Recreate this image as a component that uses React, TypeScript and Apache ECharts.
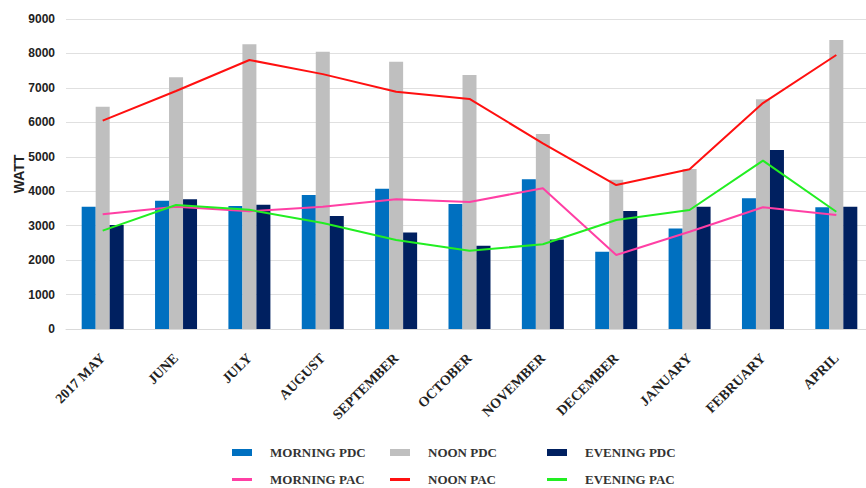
import React, { useEffect, useRef } from "react";
import * as echarts from "echarts";

const categories = ["2017 MAY", "JUNE", "JULY", "AUGUST", "SEPTEMBER", "OCTOBER", "NOVEMBER", "DECEMBER", "JANUARY", "FEBRUARY", "APRIL"];
const morningPDC = [3550, 3725, 3570, 3890, 4075, 3630, 4345, 2245, 2920, 3795, 3535];
const noonPDC = [6455, 7307, 8270, 8050, 7760, 7375, 5660, 4330, 4645, 6670, 8390];
const eveningPDC = [3020, 3765, 3610, 3280, 2800, 2420, 2600, 3425, 3550, 5200, 3550];
const morningPAC = [3330, 3550, 3420, 3550, 3765, 3690, 4085, 2150, 2825, 3535, 3310];
const noonPAC = [6050, 6910, 7810, 7400, 6890, 6680, 5390, 4180, 4635, 6560, 7955];
const eveningPAC = [2855, 3600, 3460, 3075, 2585, 2270, 2460, 3165, 3455, 4890, 3405];
const yTicks = { min: 0, max: 9000, interval: 1000 };

const COLORS = {
  morningPDC: "#0070C0",
  noonPDC: "#BFBFBF",
  eveningPDC: "#002060",
  morningPAC: "#FF3FA4",
  noonPAC: "#FF1010",
  eveningPAC: "#22EE22",
};

export default function App() {
  const ref = useRef<HTMLDivElement>(null);
  useEffect(() => {
    if (!ref.current) return;
    const chart = echarts.init(ref.current, null, { renderer: "svg" });
    const legendText = {
      fontFamily: "Liberation Serif",
      fontWeight: "bold" as const,
      fontSize: 13,
      color: "#333",
      padding: [0, 0, 0, 13],
    };
    const mkLegend = (name: string, left: number, top: number, isLine: boolean) => ({
      data: [name],
      left,
      top,
      icon: "rect",
      itemWidth: 20,
      itemHeight: isLine ? 3 : 7,
      textStyle: legendText,
      selectedMode: false,
      padding: 0,
    });
    const barSeries = (name: string, data: number[], color: string) => ({
      name,
      type: "bar",
      data,
      barWidth: 14,
      barGap: "0%",
      itemStyle: { color },
    });
    const lineSeries = (name: string, data: number[], color: string) => ({
      name,
      type: "line",
      data,
      symbol: "none",
      lineStyle: { color, width: 2 },
      itemStyle: { color },
      z: 5,
    });
    chart.setOption({
      animation: false,
      backgroundColor: "#fff",
      grid: { left: 66, top: 19, width: 807, height: 310, outerBoundsMode: "none", containLabel: false },
      legend: [
        mkLegend("MORNING PDC", 232, 446, false),
        mkLegend("NOON PDC", 390, 446, false),
        mkLegend("EVENING PDC", 547, 446, false),
        mkLegend("MORNING PAC", 232, 473, true),
        mkLegend("NOON PAC", 390, 473, true),
        mkLegend("EVENING PAC", 547, 473, true),
      ],
      xAxis: {
        type: "category",
        data: categories,
        axisLine: { show: true, lineStyle: { color: "#D9D9D9" } },
        axisTick: { show: false },
        axisLabel: {
          rotate: 45,
          interval: 0,
          margin: 27,
          fontFamily: "Liberation Serif",
          fontWeight: "bold",
          fontSize: 14,
          color: "#222",
        },
      },
      yAxis: {
        type: "value",
        min: yTicks.min,
        max: yTicks.max,
        interval: yTicks.interval,
        name: "WATT",
        nameLocation: "middle",
        nameGap: 40,
        nameMoveOverlap: false,
        nameRotate: 90,
        nameTextStyle: { fontFamily: "Liberation Sans", fontWeight: "bold", fontSize: 14, color: "#222" },
        axisLine: { show: false },
        axisTick: { show: false },
        splitLine: { lineStyle: { color: "#E0E0E0", width: 1 } },
        axisLabel: {
          margin: 11,
          fontFamily: "Liberation Sans",
          fontWeight: "bold",
          fontSize: 12,
          color: "#222",
          formatter: (v: number) => String(v),
        },
      },
      series: [
        barSeries("MORNING PDC", morningPDC, COLORS.morningPDC),
        barSeries("NOON PDC", noonPDC, COLORS.noonPDC),
        barSeries("EVENING PDC", eveningPDC, COLORS.eveningPDC),
        lineSeries("MORNING PAC", morningPAC, COLORS.morningPAC),
        lineSeries("NOON PAC", noonPAC, COLORS.noonPAC),
        lineSeries("EVENING PAC", eveningPAC, COLORS.eveningPAC),
      ],
    });
    return () => chart.dispose();
  }, []);
  return (
    <div
      ref={ref}
      style={{ position: "fixed", left: 0, top: 0, width: 866, height: 488, background: "#fff" }}
    />
  );
}
